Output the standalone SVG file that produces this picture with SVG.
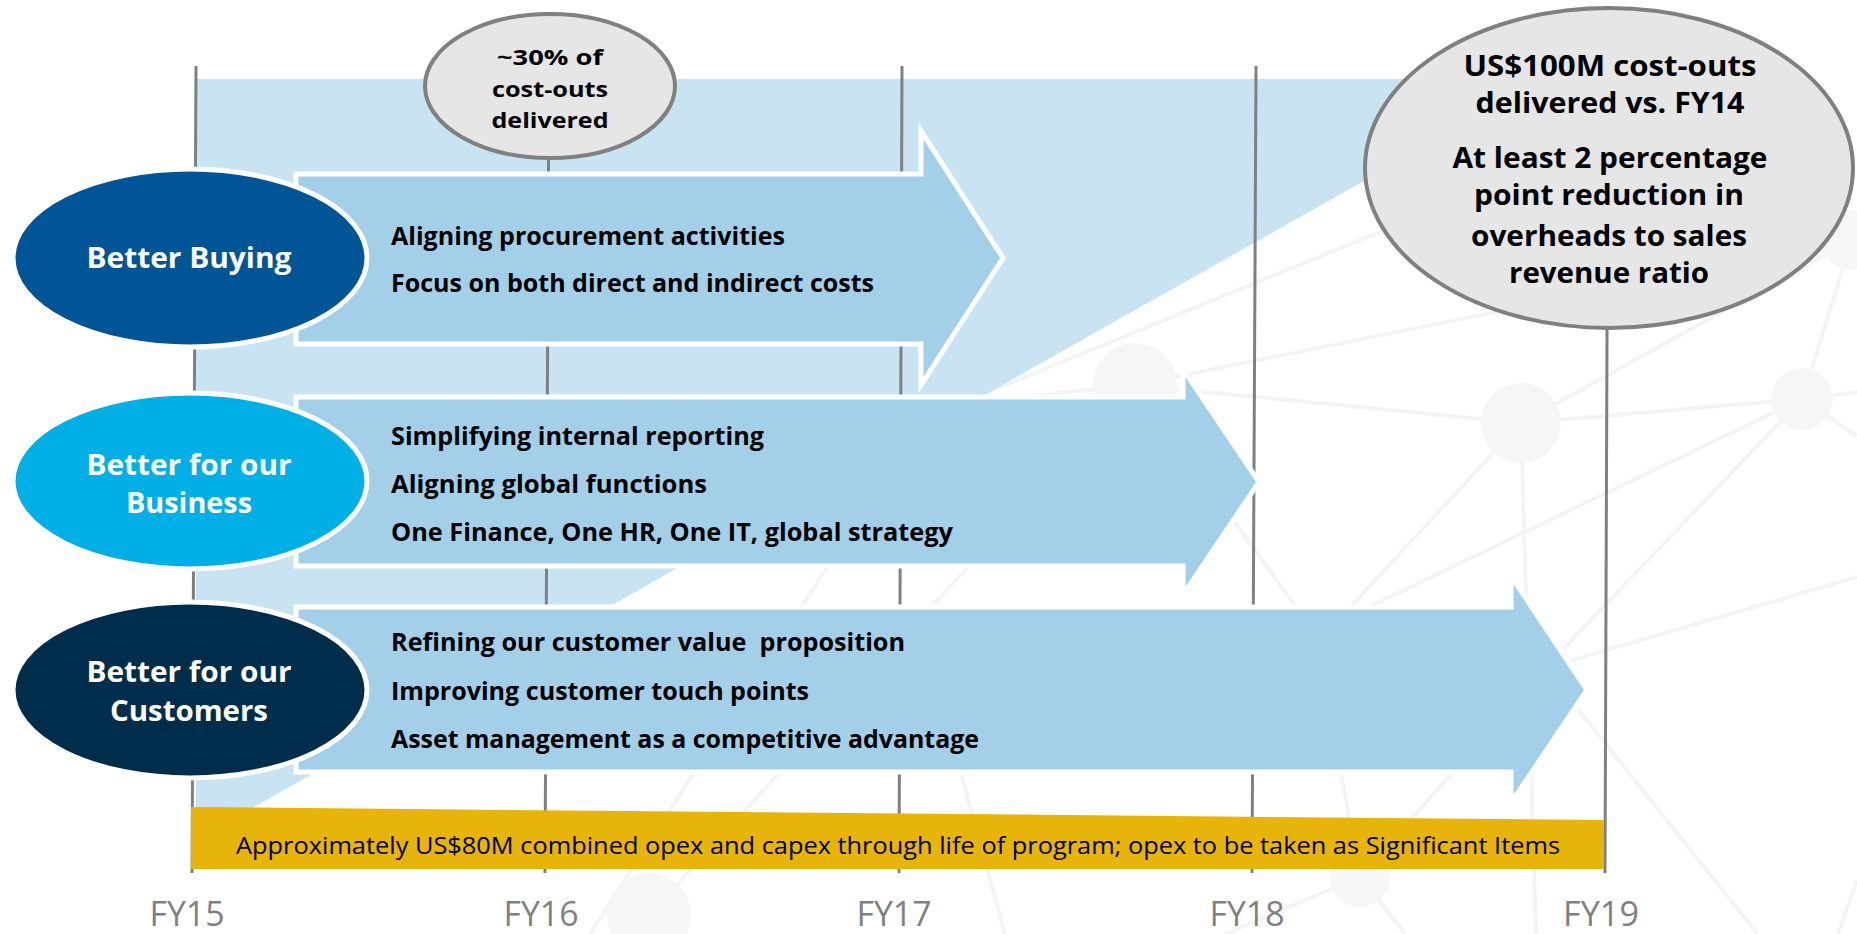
<svg xmlns="http://www.w3.org/2000/svg" width="1857" height="934" viewBox="0 0 1857 934">
  <style>
    .net line { stroke: #f4f4f4; stroke-width: 4; }
    .net circle { fill: #f6f6f6; }
    .grid { stroke: #808080; stroke-width: 3; fill: none; }
    .arrow { fill: #a3d0e8; stroke: #ffffff; stroke-width: 5; stroke-linejoin: miter; }
    .oval { stroke: #ffffff; stroke-width: 5; }
    .bubble { fill: #e6e6e6; stroke: #808080; stroke-width: 4; }
    .b { font-family: 'Open Sans', 'Noto Sans', 'DejaVu Sans', sans-serif; font-weight: 700; }
    .w { fill: #ffffff; font-size: 29px; text-anchor: middle; }
    .t { fill: #000000; font-size: 25px; }
    .c { fill: #000000; text-anchor: middle; }
    .r { font-family: 'Open Sans', 'Noto Sans', 'DejaVu Sans', sans-serif; font-weight: 400; }
    .fy { fill: #808080; font-size: 35px; text-anchor: middle; }
  </style>
  <rect x="0" y="0" width="1857" height="934" fill="#ffffff"/>

  <g id="background-network" class="net">
    <line x1="1135" y1="385" x2="1852" y2="240"/>
    <line x1="1135" y1="385" x2="1521" y2="423"/>
    <line x1="1521" y1="423" x2="1852" y2="240"/>
    <line x1="1521" y1="423" x2="1802" y2="399"/>
    <line x1="1802" y1="399" x2="1852" y2="240"/>
    <line x1="1802" y1="399" x2="1857" y2="392"/>
    <line x1="1802" y1="399" x2="1857" y2="436"/>
    <line x1="1521" y1="423" x2="1250" y2="715"/>
    <line x1="1521" y1="423" x2="1536" y2="934"/>
    <line x1="1802" y1="399" x2="1545" y2="668"/>
    <line x1="1802" y1="399" x2="1250" y2="664"/>
    <line x1="1857" y1="577" x2="1545" y2="668"/>
    <line x1="1545" y1="668" x2="1758" y2="934"/>
    <line x1="1360" y1="877" x2="1545" y2="668"/>
    <line x1="1360" y1="877" x2="1335" y2="740"/>
    <line x1="1360" y1="877" x2="1225" y2="934"/>
    <line x1="1360" y1="877" x2="1405" y2="934"/>
    <line x1="1135" y1="385" x2="649" y2="915"/>
    <line x1="1135" y1="385" x2="1400" y2="750"/>
    <line x1="1135" y1="385" x2="950" y2="405"/>
    <line x1="590" y1="934" x2="1000" y2="300"/>
    <line x1="1005" y1="934" x2="930" y2="660"/>
    <line x1="900" y1="428" x2="1500" y2="183"/>
    <line x1="1857" y1="880" x2="1838" y2="934"/>
    <circle cx="1135" cy="385" r="42"/>
    <circle cx="1521" cy="423" r="40"/>
    <circle cx="1802" cy="399" r="31"/>
    <circle cx="1852" cy="240" r="30"/>
    <circle cx="1360" cy="877" r="30"/>
    <circle cx="649" cy="915" r="42"/>
  </g>

  <g id="trend-band">
    <polygon points="196,79 1545,79 213,830 196,830" fill="#c8e3f1"/>
  </g>

  <g id="connectors" class="grid">
    <line x1="196" y1="66" x2="192" y2="873"/>
    <line x1="549" y1="66" x2="545" y2="873"/>
    <line x1="902" y1="66" x2="899" y2="873"/>
    <line x1="1256" y1="66" x2="1252" y2="873"/>
    <line x1="1608" y1="66" x2="1605" y2="873"/>
  </g>

  <g id="arrow-buying">
    <path class="arrow" d="M296,174 L921,174 L921,131 L1003,258 L921,385 L921,344 L296,344 Z"/>
    <text class="b t" x="391" y="245" textLength="394" lengthAdjust="spacingAndGlyphs">Aligning procurement activities</text>
    <text class="b t" x="391" y="292" textLength="483" lengthAdjust="spacingAndGlyphs">Focus on both direct and indirect costs</text>
  </g>

  <g id="arrow-business">
    <path class="arrow" d="M296,397 L1183,397 L1183,369 L1259,482 L1183,595 L1183,566 L296,566 Z"/>
    <text class="b t" x="391" y="445" textLength="373" lengthAdjust="spacingAndGlyphs">Simplifying internal reporting</text>
    <text class="b t" x="391" y="493" textLength="316" lengthAdjust="spacingAndGlyphs">Aligning global functions</text>
    <text class="b t" x="391" y="541" textLength="562" lengthAdjust="spacingAndGlyphs">One Finance, One HR, One IT, global strategy</text>
  </g>

  <g id="arrow-customers">
    <path class="arrow" d="M296,607 L1511,607 L1511,576 L1587,690 L1511,803 L1511,772 L296,772 Z"/>
    <text class="b t" x="391" y="651" textLength="514" lengthAdjust="spacingAndGlyphs" xml:space="preserve">Refining our customer value  proposition</text>
    <text class="b t" x="391" y="700" textLength="418" lengthAdjust="spacingAndGlyphs">Improving customer touch points</text>
    <text class="b t" x="391" y="748" textLength="588" lengthAdjust="spacingAndGlyphs">Asset management as a competitive advantage</text>
  </g>

  <g id="cost-bar">
    <polygon points="191,807 1604,820 1604,869 191,869" fill="#e6b40b"/>
    <text class="r" x="898" y="854" font-size="24" text-anchor="middle" fill="#000000" textLength="1324" lengthAdjust="spacingAndGlyphs">Approximately US$80M combined opex and capex through life of program; opex to be taken as Significant Items</text>
  </g>

  <g id="node-better-buying">
    <ellipse class="oval" cx="190" cy="258" rx="177" ry="89" fill="#005596"/>
    <text class="b w" x="189" y="268" textLength="205" lengthAdjust="spacingAndGlyphs">Better Buying</text>
  </g>

  <g id="node-better-business">
    <ellipse class="oval" cx="190" cy="481" rx="177" ry="88" fill="#00afe6"/>
    <text class="b w" x="189" y="475" textLength="205" lengthAdjust="spacingAndGlyphs">Better for our</text>
    <text class="b w" x="189" y="513" textLength="126" lengthAdjust="spacingAndGlyphs">Business</text>
  </g>

  <g id="node-better-customers">
    <ellipse class="oval" cx="190" cy="690" rx="177" ry="88" fill="#002d4b"/>
    <text class="b w" x="189" y="682" textLength="205" lengthAdjust="spacingAndGlyphs">Better for our</text>
    <text class="b w" x="189" y="721" textLength="158" lengthAdjust="spacingAndGlyphs">Customers</text>
  </g>

  <g id="node-milestone-fy16">
    <ellipse class="bubble" cx="550" cy="86" rx="125" ry="72"/>
    <text class="b c" x="550" y="65" font-size="22" textLength="106" lengthAdjust="spacingAndGlyphs">~30% of</text>
    <text class="b c" x="550" y="97" font-size="22" textLength="116" lengthAdjust="spacingAndGlyphs">cost-outs</text>
    <text class="b c" x="550" y="128" font-size="22" textLength="117" lengthAdjust="spacingAndGlyphs">delivered</text>
  </g>

  <g id="node-target-fy19">
    <ellipse class="bubble" cx="1609" cy="168" rx="244" ry="160"/>
    <text class="b c" x="1610" y="76" font-size="29" textLength="293" lengthAdjust="spacingAndGlyphs">US$100M cost-outs</text>
    <text class="b c" x="1610" y="113" font-size="29" textLength="269" lengthAdjust="spacingAndGlyphs">delivered vs. FY14</text>
    <text class="b c" x="1610" y="168" font-size="29" textLength="315" lengthAdjust="spacingAndGlyphs">At least 2 percentage</text>
    <text class="b c" x="1609" y="205" font-size="29" textLength="270" lengthAdjust="spacingAndGlyphs">point reduction in</text>
    <text class="b c" x="1609" y="246" font-size="29" textLength="276" lengthAdjust="spacingAndGlyphs">overheads to sales</text>
    <text class="b c" x="1609" y="283" font-size="29" textLength="200" lengthAdjust="spacingAndGlyphs">revenue ratio</text>
  </g>

  <g id="axis-labels" class="r fy">
    <text x="187" y="926" textLength="75" lengthAdjust="spacingAndGlyphs">FY15</text>
    <text x="541" y="926" textLength="75" lengthAdjust="spacingAndGlyphs">FY16</text>
    <text x="894" y="926" textLength="75" lengthAdjust="spacingAndGlyphs">FY17</text>
    <text x="1247" y="926" textLength="75" lengthAdjust="spacingAndGlyphs">FY18</text>
    <text x="1601" y="926" textLength="76" lengthAdjust="spacingAndGlyphs">FY19</text>
  </g>
</svg>
